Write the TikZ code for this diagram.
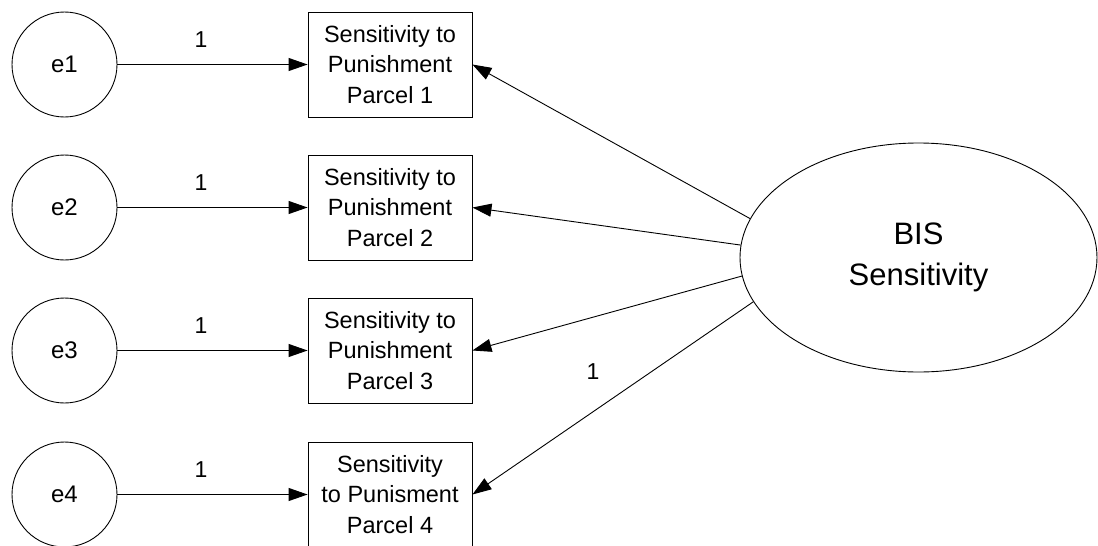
\documentclass[tikz,border=0pt]{standalone}
\usepackage{fontspec}
\setmainfont{Liberation Sans}
\usetikzlibrary{arrows.meta,shapes.geometric}
\tikzset{
  err/.style={draw,circle,line width=0.9pt,minimum size=105pt,inner sep=0pt,font=\fontsize{24}{28}\selectfont},
  obs/.style={draw,rectangle,line width=0.9pt,minimum width=164pt,minimum height=105pt,inner sep=0pt,align=center,font=\fontsize{23.5}{30.5}\selectfont},
  lat/.style={draw,ellipse,line width=0.9pt,minimum width=357pt,minimum height=229pt,inner sep=0pt,align=center,font=\fontsize{31}{41}\selectfont},
  conn/.style={line width=0.9pt,-{Triangle[length=19pt,width=13pt]}},
  lbl/.style={font=\fontsize{23}{26}\selectfont,inner sep=0pt}
}
\begin{document}
\begin{tikzpicture}[x=1pt,y=-1pt]
\useasboundingbox (0,0) rectangle (1098,546);
\node[err] (e1) at (64.5,64.5) {e1};
\node[err] (e2) at (64.5,207.5) {e2};
\node[err] (e3) at (64.5,350.5) {e3};
\node[err] (e4) at (64.5,494.5) {e4};
\node[obs] (b1) at (390,64.5) {Sensitivity to\\Punishment\\Parcel 1};
\node[obs] (b2) at (390,207.5) {Sensitivity to\\Punishment\\Parcel 2};
\node[obs] (b3) at (390,350.5) {Sensitivity to\\Punishment\\Parcel 3};
\node[obs] (b4) at (390,494.5) {Sensitivity\\to Punisment\\Parcel 4};
\node[lat] (bis) at (918.5,257.5) {BIS\\Sensitivity};
\draw[conn] (e1) -- (b1.west);
\draw[conn] (e2) -- (b2.west);
\draw[conn] (e3) -- (b3.west);
\draw[conn] (e4) -- (b4.west);
\node[lbl] (l1) at (201,40) {1};
\node[lbl] (l2) at (201,183) {1};
\node[lbl] (l3) at (201,326) {1};
\node[lbl] (l4) at (201,470) {1};
\draw[conn] (bis.167.1) -- (b1.east);
\draw[conn] (bis.176.6) -- (b2.east);
\draw[conn] (bis.186.3) -- (b3.east);
\draw[conn] (bis.195.4) -- (b4.east);
\node[lbl] (l5) at (593,372) {1};
\end{tikzpicture}
\end{document}
